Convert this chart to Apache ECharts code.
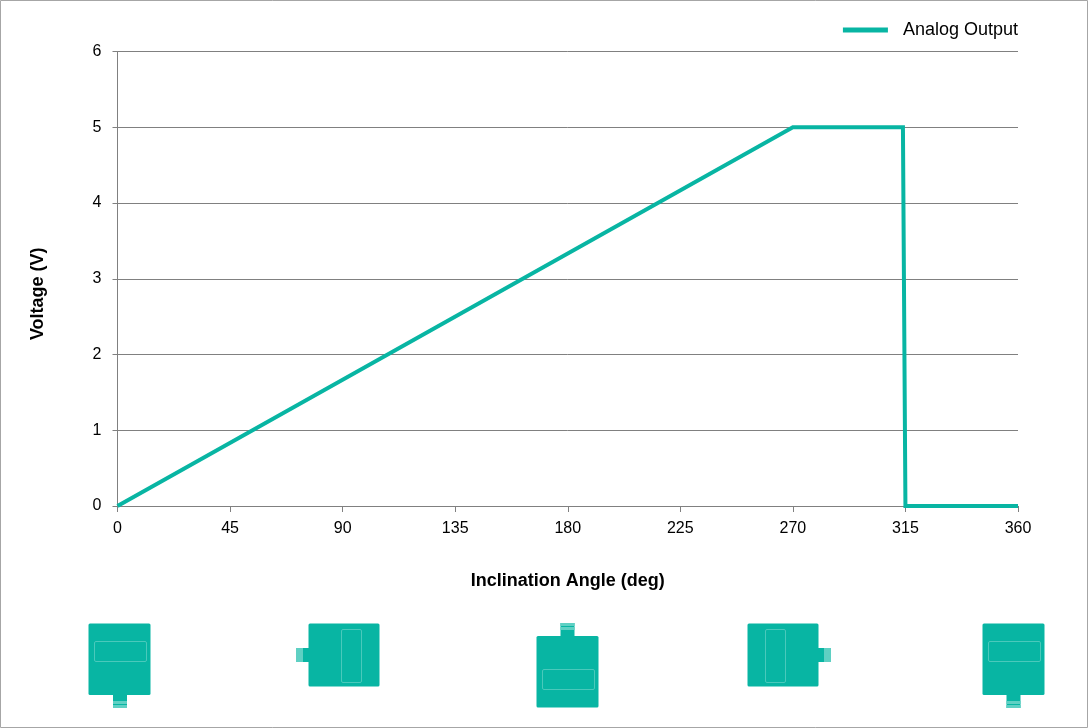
<!DOCTYPE html>
<html>
<head>
<meta charset="utf-8">
<style>
  html, body { margin: 0; padding: 0; background: #fff; }
  #chart { width: 1088px; height: 728px; }
</style>
<script src="https://cdn.jsdelivr.net/npm/echarts@6/dist/echarts.min.js"></script>
</head>
<body>
<div id="chart"></div>
<script>
const seriesName = 'Analog Output'
const angles = [0, 270, 314, 315, 360]
const voltages = [0, 5, 5, 0, 0]
const xTicks = [0, 45, 90, 135, 180, 225, 270, 315, 360]
const yTicks = [0, 1, 2, 3, 4, 5, 6]

const TEAL = '#08b5a3'
const LIGHT = '#5fd0c3'
const GREY = '#808080'
const FONT = '"Liberation Sans", Arial, sans-serif'

// sensor pictogram: body, display window, connector tab, striped connector end
function rect(x, y, w, h, fill, r) {
  return { type: 'rect', shape: { x, y, width: w, height: h, r: r || 0 }, style: { fill }, silent: true }
}
function outline(x, y, w, h) {
  return {
    type: 'rect',
    shape: { x, y, width: w, height: h, r: 1.5 },
    style: { fill: 'none', stroke: '#4ac9bb', lineWidth: 1 },
    silent: true
  }
}
function sensor(body, win, tab, stripes) {
  const parts = [rect(...tab, TEAL), rect(...body, TEAL, 1.5), outline(...win)]
  stripes.forEach(s => parts.push(rect(...s, LIGHT)))
  return parts
}

const icons = [
  ...sensor([88.5, 623.5, 62, 71.5], [94.5, 641.5, 52, 20], [113, 694, 14, 14], [[113, 701, 14, 3], [113, 705, 14, 3]]),
  ...sensor([308.5, 623.5, 71, 63], [341.5, 629.5, 20, 53], [296, 648, 13, 14], [[296, 648, 2, 14], [298, 648, 5, 14]]),
  ...sensor([536.5, 636, 62, 71.5], [542.5, 669.5, 52, 20], [560.5, 623, 14, 14], [[560.5, 623, 14, 3], [560.5, 627, 14, 3]]),
  ...sensor([747.5, 623.5, 71, 63], [765.5, 629.5, 20, 53], [818, 648, 13, 14], [[824, 648, 5, 14], [829, 648, 2, 14]]),
  ...sensor([982.5, 623.5, 62, 71.5], [988.5, 641.5, 52, 20], [1006.5, 694, 14, 14], [[1006.5, 701, 14, 3], [1006.5, 705, 14, 3]])
]

const chart = echarts.init(document.getElementById('chart'), null, { renderer: 'canvas' })
chart.setOption({
  animation: false,
  backgroundColor: '#fff',
  textStyle: { fontFamily: FONT },
  legend: {
    data: [seriesName],
    top: 21,
    right: 70,
    padding: 0,
    icon: 'rect',
    itemWidth: 45,
    itemHeight: 5,
    itemGap: 0,
    textStyle: { color: '#000', fontSize: 18, fontFamily: FONT, padding: [0, 0, 0, 10] }
  },
  grid: { left: 117.5, right: 70, top: 51.5, bottom: 222, containLabel: false },
  xAxis: {
    type: 'value',
    min: 0,
    max: 360,
    interval: 45,
    name: 'Inclination Angle (deg)',
    nameLocation: 'middle',
    nameGap: 66,
    nameTextStyle: { color: '#000', fontSize: 18, fontWeight: 'bold', fontFamily: FONT },
    axisLine: { show: true, lineStyle: { color: GREY, width: 1 } },
    axisTick: { show: true, length: 6, lineStyle: { color: GREY } },
    axisLabel: {
      color: '#000',
      fontSize: 16,
      fontFamily: FONT,
      margin: 15,
      hideOverlap: false,
      formatter: v => xTicks.includes(v) ? String(v) : ''
    },
    splitLine: { show: false }
  },
  yAxis: {
    type: 'value',
    min: 0,
    max: 6,
    interval: 1,
    name: 'Voltage (V)',
    nameLocation: 'middle',
    nameRotate: 90,
    nameGap: 70,
    nameTextStyle: { color: '#000', fontSize: 18, fontWeight: 'bold', fontFamily: FONT, padding: [0, 30, 0, 0] },
    axisLine: { show: true, lineStyle: { color: GREY, width: 1 } },
    axisTick: { show: true, length: 5, lineStyle: { color: GREY } },
    axisLabel: {
      color: '#000',
      fontSize: 16,
      fontFamily: FONT,
      margin: 16,
      formatter: v => yTicks.includes(v) ? String(v) : ''
    },
    splitLine: { show: true, lineStyle: { color: GREY, width: 1 } }
  },
  series: [
    {
      name: seriesName,
      type: 'line',
      data: angles.map((a, i) => [a, voltages[i]]),
      showSymbol: false,
      clip: false,
      lineStyle: { color: TEAL, width: 4, join: 'miter' },
      itemStyle: { color: TEAL }
    }
  ],
  graphic: [
    {
      type: 'rect',
      shape: { x: 0.5, y: 0.5, width: 1087, height: 727 },
      style: { fill: 'none', stroke: '#a6a6a6', lineWidth: 1 },
      silent: true
    },
    ...icons
  ]
})
</script>
</body>
</html>
